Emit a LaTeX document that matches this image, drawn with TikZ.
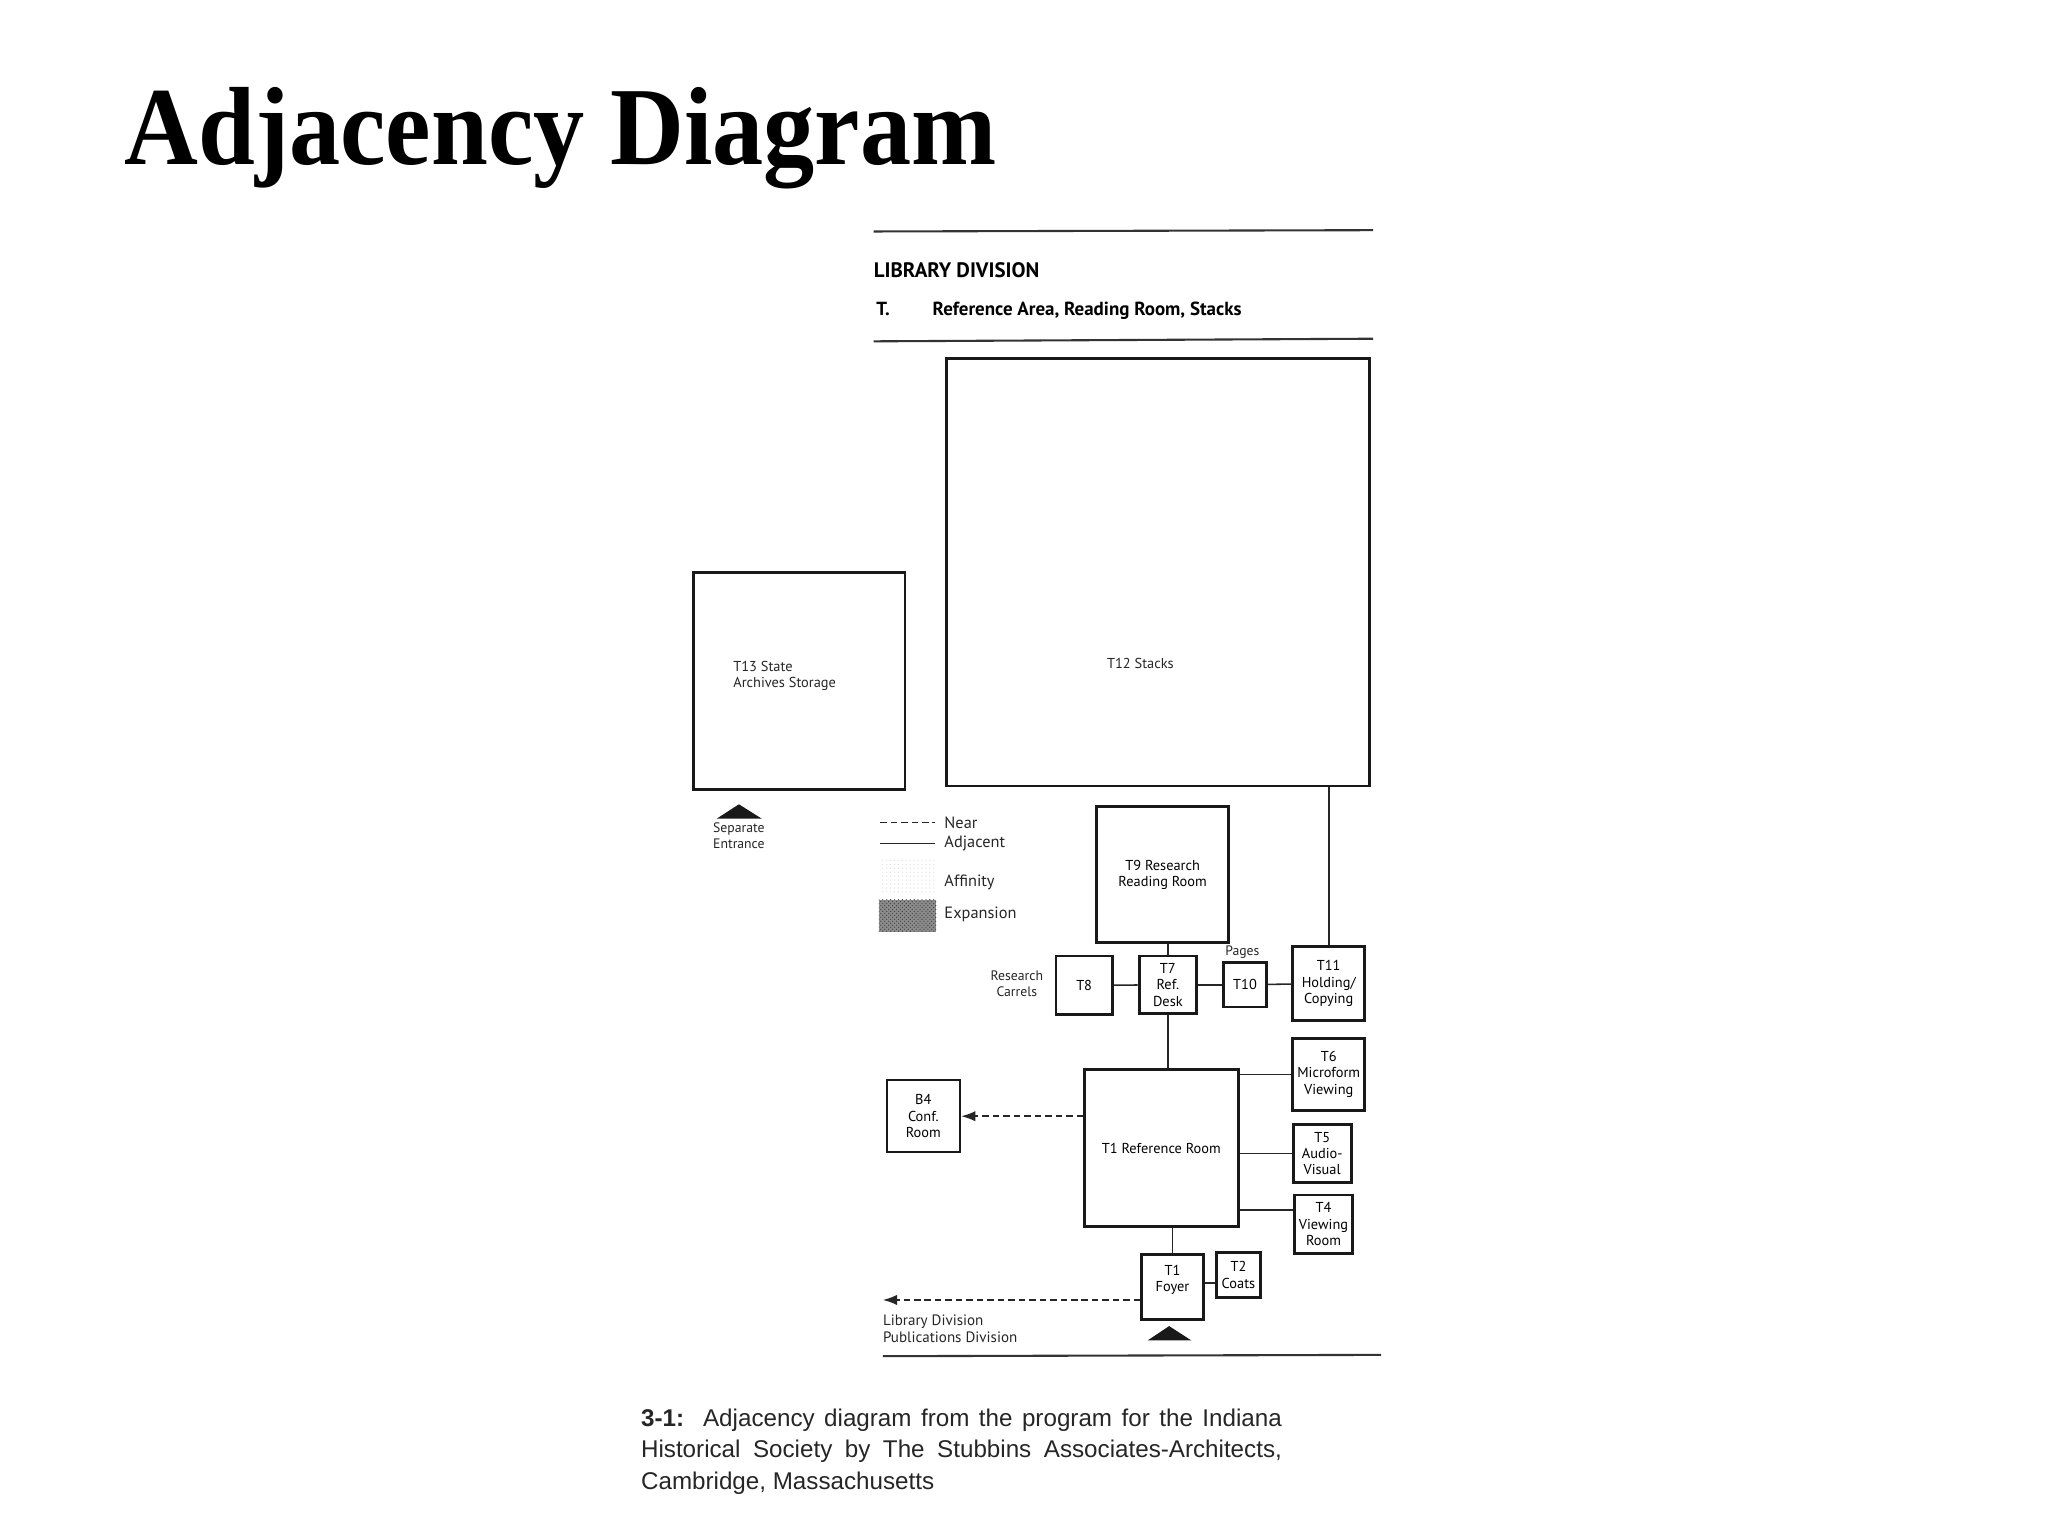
\documentclass[tikz,border=0pt]{standalone}
\usepackage{fontspec}
\setmainfont{Liberation Serif}
\newfontfamily\plansans{PT Sans}
\newfontfamily\capsans{Liberation Sans}
\usetikzlibrary{arrows.meta,patterns,positioning}

\begin{document}
\begin{tikzpicture}[x=1pt,y=-1pt,
    room/.style={draw=black!90,line width=2.2pt,inner sep=0pt,align=center,
      font=\plansans\fontsize{11}{12.5}\selectfont},
    lbl/.style={inner sep=0pt,align=center,text=black!85,
      font=\plansans\fontsize{10.5}{12}\selectfont},
    keytext/.style={inner sep=0pt,anchor=west,text=black!85,
      font=\plansans\fontsize{12.5}{14}\selectfont},
    head/.style={inner sep=0pt,anchor=base west,
      font=\plansans\bfseries\fontsize{14.5}{16}\selectfont},
    adj/.style={line width=1.2pt,draw=black!85},
    nearline/.style={line width=1.3pt,draw=black!85,dash pattern=on 5pt off 3pt},
    nearby/.style={nearline,-{Latex[length=11pt,width=8pt]}},
    rule/.style={line width=1.6pt,draw=black!80}]
  \fill[white] (0,0) rectangle (1566,1174);
  \useasboundingbox (0,0) rectangle (1566,1174);
  % title
  \node[anchor=base west,inner sep=0pt,font=\bfseries\fontsize{85}{90}\selectfont]
    (title) at (95,126) {\scalebox{0.92}[1]{Adjacency Diagram}};
  % header
  \draw[rule] (668,177) -- (1050,176);
  \node[head,font=\plansans\bfseries\fontsize{16}{18}\selectfont] (division) at (668,212) {LIBRARY DIVISION};
  \node[head] (section) at (670,241) {T.};
  \node[head] (sectname) at (713,241) {Reference Area, Reading Room, Stacks};
  \draw[rule] (668,261) -- (1050,259);
  % rooms
  \node[room,minimum width=323pt,minimum height=327pt] (t12) at (885.5,437.5) {};
  \node[lbl,font=\plansans\fontsize{11}{12.5}\selectfont] (t12name) at (872,507) {T12 Stacks};
  \node[room,minimum width=162pt,minimum height=166pt] (t13) at (611,521) {};
  \node[lbl,align=left,font=\plansans\fontsize{11}{12.5}\selectfont] (t13name) at (600,517) {T13 State\\Archives Storage};
  \node[room,minimum width=101pt,minimum height=104pt] (t9) at (889,669) {T9 Research\\Reading Room};
  \node[room,minimum width=43pt,minimum height=45pt] (t8) at (829,753.5) {T8};
  \node[room,minimum width=44pt,minimum height=44pt] (t7) at (893,753) {T7\\Ref.\\Desk};
  \node[room,minimum width=33pt,minimum height=34pt] (t10) at (952,753) {T10};
  \node[room,minimum width=55pt,minimum height=56pt] (t11) at (1016,752) {T11\\Holding/\\Copying};
  \node[room,minimum width=55pt,minimum height=55pt] (t6) at (1016,821.5) {T6\\Microform\\Viewing};
  \node[room,minimum width=44.5pt,minimum height=44.5pt] (t5) at (1011,882) {T5\\Audio-\\Visual};
  \node[room,minimum width=44pt,minimum height=44.5pt] (t4) at (1012,936) {T4\\Viewing\\Room};
  \node[room,line width=1.8pt,minimum width=56pt,minimum height=55pt] (b4) at (706,853.5) {B4\\Conf.\\Room};
  \node[room,minimum width=117.5pt,minimum height=120pt] (t1) at (888,878) {T1 Reference Room};
  \node[room,text depth=13pt,minimum width=47pt,minimum height=49.5pt] (foyer) at (896.5,984) {T1\\Foyer};
  \node[room,minimum width=34pt,minimum height=34pt] (t2) at (947,975) {T2\\Coats};
  % side labels
  \node[lbl] (carrels) at (777.5,752) {Research\\Carrels};
  \node[lbl] (pages) at (950,728) {Pages};
  \node[lbl] (sepentr) at (565,639) {Separate\\Entrance};
  \node[lbl,align=left,anchor=west,font=\plansans\fontsize{11.5}{12.5}\selectfont]
    (libdivs) at (675,1016) {Library Division\\Publications Division};
  % entrances
  \fill[black!90] (548,626) -- (565,615) -- (582.5,626) -- cycle;
  \fill[black!90] (877.5,1025) -- (894,1014) -- (911,1025) -- cycle;
  % key
  \node[keytext] (nearkey) at (722,629) {Near};
  \node[keytext] (adjkey) at (722,645) {Adjacent};
  \node[keytext] (affkey) at (722,675) {Affinity};
  \node[keytext] (expkey) at (722,699) {Expansion};
  \draw[nearline] (673,629) -- (715,629);
  \draw[adj] (673,645) -- (715,645);
  \fill[pattern=dots,pattern color=black!12] (673,657) rectangle (716,683);
  \fill[black!45] (672,688) rectangle (716,712.5);
  \fill[pattern=crosshatch dots,pattern color=black!75] (672,688) rectangle (716,712.5);
  % connectors
  \begin{scope}[adj]
    \draw (t7 |- t9.south) to (t7.north);
    \draw (t8) to (t7);
    \draw (t7) to (t10);
    \draw (t10) to (t11);
    \draw (t11 |- t12.south) to (t11.north);
    \draw (t7) to (t7 |- t1.north);
    \draw (foyer |- t1.south) to (foyer.north);
    \draw ([yshift=-6pt]t2.west) to ([yshift=-6pt]t2.west -| foyer.east);
    \draw (t6) to (t6 -| t1.east);
    \draw (t5) to (t5 -| t1.east);
    \draw ([yshift=11pt]t4.west) to ([yshift=11pt]t4.west -| t1.east);
  \end{scope}
  \coordinate (libout) at (675,994);
  \draw[nearby] (t1.west |- b4) to (b4.east);
  \draw[nearby] (foyer.west |- libout) to (libout);
  \draw[rule] (675,1037) -- (1056,1036);
  % caption
  \node[anchor=north west,inner sep=0pt,text width=490pt,align=justify,text=black!85,
    font=\capsans\fontsize{18.5}{24}\selectfont] (caption) at (490,1077)
    {\textbf{3-1:}\ \ Adjacency diagram from the program for the Indiana\linebreak
     Historical Society by The Stubbins Associates-Architects,\linebreak
     Cambridge, Massachusetts};
\end{tikzpicture}
\end{document}
